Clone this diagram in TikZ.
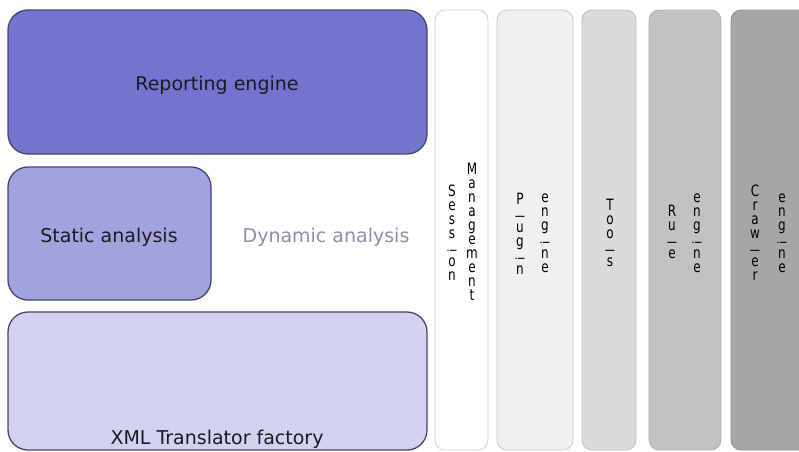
\documentclass[tikz,border=0pt]{standalone}
\usepackage{graphicx}
\usepackage{fontspec}
\setmainfont{DejaVu Sans}
\definecolor{edgeblue}{HTML}{46466A}
\definecolor{reportfill}{HTML}{7474D0}
\definecolor{staticfill}{HTML}{A2A2DF}
\definecolor{xmlfill}{HTML}{D3D3F1}
\definecolor{dyntext}{HTML}{8E8EA8}
\definecolor{labeltext}{HTML}{1A1A22}
% one letter of a stacked caption: tall and narrow, with i and l on their side
\def\vletter#1{\ifx#1i\rotatebox{90}{i}\else\ifx#1l\rotatebox{90}{l}\else
  \scalebox{1}[1.3]{#1}\fi\fi}
\def\vwordloop#1{\ifx#1\relax\else
  \hbox to 0pt{\hss\vletter{#1}\hss}\expandafter\vwordloop\fi}
% a word written top to bottom, one letter per line
\newcommand{\vword}[1]{\vbox{\baselineskip=14pt\lineskiplimit=-20pt
  \vwordloop#1\relax}}
\tikzset{
  layerbox/.style={draw=edgeblue, line width=1.3pt, rounded corners=20pt,
    inner sep=0pt, outer sep=0pt},
  pillar/.style={rounded corners=10pt, inner sep=0pt, outer sep=0pt,
    minimum height=440pt, line width=0.8pt},
  boxlabel/.style={font=\fontsize{19}{22}\selectfont, text=labeltext, inner sep=0pt},
  stacklabel/.style={font=\fontsize{12}{14}\selectfont, text=black,
    inner sep=0pt}
}
\begin{document}
\begin{tikzpicture}[x=1pt, y=-1pt]
\useasboundingbox (0,0) rectangle (799,451);
\clip (0,0) rectangle (799,451);

% stacked layers on the left
\node[layerbox, fill=reportfill, minimum width=419pt, minimum height=144pt]
  (report) at (217.5,82) {};
\node[layerbox, fill=staticfill, minimum width=203pt, minimum height=133pt]
  (static) at (109.5,233.5) {};
\node[layerbox, fill=xmlfill, minimum width=419pt, minimum height=138pt]
  (xml) at (217.5,381) {};

\node[boxlabel] (reportlbl) at (217,85) {Reporting engine};
\node[boxlabel] (staticlbl) at (109,237) {Static analysis};
\node[boxlabel, text=dyntext] (dynlbl) at (326,237) {Dynamic analysis};
\node[boxlabel, anchor=base] (xmllbl) at (217,444) {XML Translator factory};

% vertical pillars on the right
\node[pillar, draw=black!18, fill=white, minimum width=53pt]
  (session) at (461.5,230) {};
\node[pillar, draw=black!22, fill=black!6, minimum width=76pt]
  (plugin) at (535,230) {};
\node[pillar, draw=black!26, fill=black!14, minimum width=54pt]
  (tools) at (609,230) {};
\node[pillar, draw=black!30, fill=black!24, minimum width=72pt]
  (rule) at (685,230) {};
\node[pillar, draw=black!42, fill=black!35, minimum width=79pt]
  (crawler) at (770.5,230) {};

% stacked pillar captions
\node[stacklabel] (sessA) at (452,233) {\vword{Session}};
\node[stacklabel] (sessB) at (472,232) {\vword{Management}};
\node[stacklabel] (plugA) at (520,234) {\vword{Plugin}};
\node[stacklabel] (plugB) at (545,233) {\vword{engine}};
\node[stacklabel] (toolsA) at (610,233) {\vword{Tools}};
\node[stacklabel] (ruleA) at (672,232) {\vword{Rule}};
\node[stacklabel] (ruleB) at (697,233) {\vword{engine}};
\node[stacklabel] (crawlA) at (755,233) {\vword{Crawler}};
\node[stacklabel] (crawlB) at (782,233) {\vword{engine}};
\end{tikzpicture}
\end{document}
